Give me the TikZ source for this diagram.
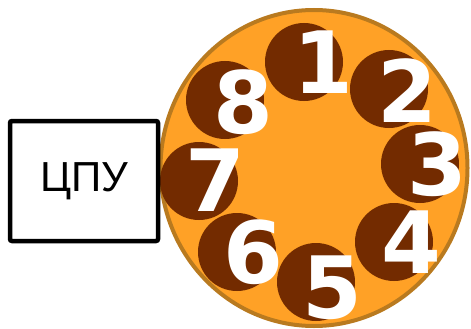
\documentclass[tikz,border=0pt]{standalone}
\usepackage{fontspec}
\usetikzlibrary{shapes.geometric}
\setmainfont{Liberation Sans}
\newfontfamily\digitfont{DejaVu Sans}
\definecolor{dialfill}{HTML}{FFA126}
\definecolor{dialrim}{HTML}{B97A1F}
\definecolor{holefill}{HTML}{732B00}
\begin{document}
\begin{tikzpicture}[x=1pt,y=-1pt,
  hole/.style={circle,fill=holefill,minimum size=78pt,inner sep=0pt},
  digit/.style={text=white,font=\digitfont\bfseries\fontsize{86}{86}\selectfont,inner sep=0pt},
  cpu/.style={draw=black,line width=4.5pt,rounded corners=2pt,minimum width=148pt,minimum height=120pt,font=\fontsize{42}{42}\selectfont}]
\useasboundingbox (0,0) rectangle (471,329);
% dial body
\node[ellipse,draw=dialrim,fill=dialfill,line width=4pt,minimum width=307pt,minimum height=316pt,inner sep=0pt] (dial) at (314,168) {};
% finger holes
\node[hole] (h1) at (304,62) {};
\node[hole] (h2) at (389,89) {};
\node[hole] (h3) at (420,164) {};
\node[hole] (h4) at (394,242) {};
\node[hole] (h5) at (316,282) {};
\node[hole] (h6) at (237,252) {};
\node[hole] (h7) at (199,181) {};
\node[hole] (h8) at (225,100) {};
% numbers
\node[digit] (n1) at (323,62) {1};
\node[digit] (n2) at (407,91) {2};
\node[digit] (n3) at (437,164) {3};
\node[digit] (n4) at (411,242) {4};
\node[digit] (n5) at (332,288) {5};
\node[digit] (n6) at (253,252) {6};
\node[digit] (n7) at (215,180) {7};
\node[digit] (n8) at (243,102) {8};
% processor box
\node[cpu,fill=white] (cpu) at (84,181) {ЦПУ};
\end{tikzpicture}
\end{document}
